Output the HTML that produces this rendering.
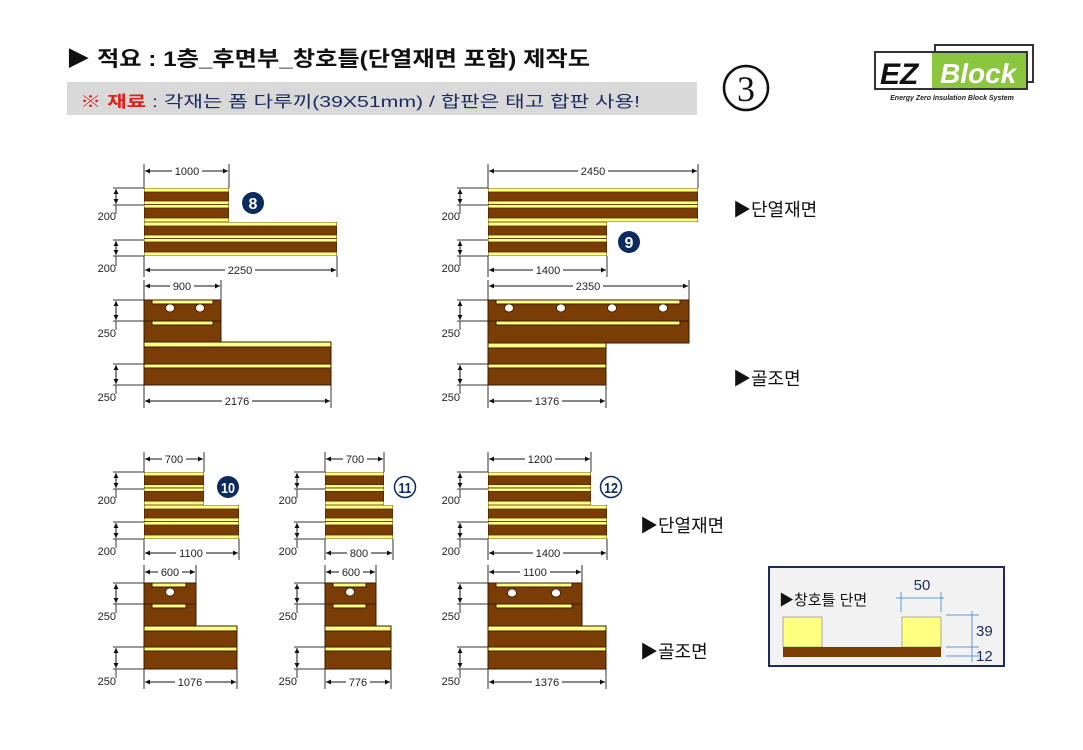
<!DOCTYPE html>
<html><head><meta charset="utf-8"><style>
html,body{margin:0;padding:0;background:#fff;}
svg{display:block;}
.d{font-family:"Liberation Sans",sans-serif;font-size:11px;fill:#222;}
.k{font-family:"Liberation Sans","Noto Sans CJK KR",sans-serif;}
</style></head><body>
<svg width="1083" height="750" viewBox="0 0 1083 750" xmlns="http://www.w3.org/2000/svg">
<defs>
<marker id="a" viewBox="0 0 10 10" refX="10" refY="5" markerWidth="7" markerHeight="5" orient="auto-start-reverse" markerUnits="userSpaceOnUse"><path d="M0,0L10,5L0,10z" fill="#111"/></marker>
<symbol id="ins" viewBox="0 0 100 34" preserveAspectRatio="none">
<rect x="0" y="0" width="100" height="34" fill="#7a3d05" stroke="#3a1a00" stroke-width="1" vector-effect="non-scaling-stroke"/>
<g fill="#ffff80" stroke="#4a2500" stroke-width="0.8" vector-effect="non-scaling-stroke">
<rect x="0" y="0" width="100" height="4" vector-effect="non-scaling-stroke"/>
<rect x="0" y="13" width="100" height="3.5" vector-effect="non-scaling-stroke"/>
<rect x="0" y="16.5" width="100" height="3.5" vector-effect="non-scaling-stroke"/>
<rect x="0" y="30" width="100" height="4" vector-effect="non-scaling-stroke"/>
</g>
</symbol>
</defs>

<!-- Header -->
<text x="66" y="66" class="k" font-size="21" font-weight="bold" fill="#111" textLength="524" lengthAdjust="spacingAndGlyphs">▶ 적요 : 1층_후면부_창호틀(단열재면 포함) 제작도</text>
<rect x="67" y="82" width="630" height="33" fill="#d9d9d9"/>
<text x="80" y="107" class="k" font-size="16" textLength="560" lengthAdjust="spacingAndGlyphs"><tspan fill="#e0201c" font-weight="bold">※ 재료</tspan><tspan fill="#1c2a5e"> : 각재는 폼 다루끼(39X51mm) / 합판은 태고 합판 사용!</tspan></text>
<circle cx="746" cy="88" r="22" fill="none" stroke="#111" stroke-width="2.5"/>
<text x="746" y="101" text-anchor="middle" font-family="Liberation Serif,serif" font-size="36" fill="#111">3</text>

<!-- Logo -->
<rect x="935" y="45" width="98" height="37" fill="#fff" stroke="#333" stroke-width="2"/>
<rect x="875" y="52" width="152" height="37" fill="#fff" stroke="#333" stroke-width="2"/>
<rect x="932" y="53" width="94" height="35" fill="#8cc63f"/>
<text x="880" y="84" font-family="Liberation Sans,sans-serif" font-weight="bold" font-style="italic" font-size="30" fill="#111">EZ</text>
<text x="940" y="83" font-family="Liberation Sans,sans-serif" font-weight="bold" font-style="italic" font-size="28" fill="#fff">Block</text>
<text x="952" y="100" text-anchor="middle" font-family="Liberation Sans,sans-serif" font-weight="bold" font-style="italic" font-size="7" fill="#222">Energy Zero Insulation Block System</text>

<!-- Insulation blocks -->
<use href="#ins" x="144" y="188" width="85" height="34"/>
<use href="#ins" x="144" y="222" width="193" height="34"/>
<use href="#ins" x="488" y="188" width="210" height="34"/>
<use href="#ins" x="488" y="222" width="119" height="34"/>
<use href="#ins" x="144" y="472" width="60" height="33"/>
<use href="#ins" x="144" y="505" width="95" height="34"/>
<use href="#ins" x="325" y="472" width="59" height="33"/>
<use href="#ins" x="325" y="505" width="68" height="34"/>
<use href="#ins" x="488" y="472" width="103" height="33"/>
<use href="#ins" x="488" y="505" width="119" height="34"/>

<!-- Frame blocks -->
<g stroke="#3a1a00" stroke-width="1">
<!-- 8 -->
<rect x="144" y="300" width="77" height="42" fill="#7a3d05"/>
<line x1="144" y1="321" x2="221" y2="321"/>
<rect x="152" y="300" width="61" height="4" fill="#ffff80"/>
<rect x="152" y="321" width="61" height="4" fill="#ffff80"/>
<rect x="144" y="342" width="187" height="43" fill="#7a3d05"/>
<rect x="144" y="342" width="187" height="5" fill="#ffff80"/>
<rect x="144" y="364" width="187" height="4" fill="#ffff80"/>
<!-- 9 -->
<rect x="488" y="300" width="201" height="43" fill="#7a3d05"/>
<line x1="488" y1="321" x2="689" y2="321"/>
<rect x="496" y="300" width="184" height="4" fill="#ffff80"/>
<rect x="496" y="321" width="184" height="4" fill="#ffff80"/>
<rect x="488" y="343" width="118" height="42" fill="#7a3d05"/>
<rect x="488" y="343" width="118" height="5" fill="#ffff80"/>
<rect x="488" y="364" width="118" height="4" fill="#ffff80"/>
<!-- 10 -->
<rect x="144" y="583" width="52" height="43" fill="#7a3d05"/>
<line x1="144" y1="604" x2="196" y2="604"/>
<rect x="152" y="583" width="34" height="4" fill="#ffff80"/>
<rect x="152" y="604" width="34" height="4" fill="#ffff80"/>
<rect x="144" y="626" width="93" height="43" fill="#7a3d05"/>
<rect x="144" y="626" width="93" height="5" fill="#ffff80"/>
<rect x="144" y="647" width="93" height="4" fill="#ffff80"/>
<!-- 11 -->
<rect x="325" y="583" width="51" height="43" fill="#7a3d05"/>
<line x1="325" y1="604" x2="376" y2="604"/>
<rect x="333" y="583" width="33" height="4" fill="#ffff80"/>
<rect x="333" y="604" width="33" height="4" fill="#ffff80"/>
<rect x="325" y="626" width="66" height="43" fill="#7a3d05"/>
<rect x="325" y="626" width="66" height="5" fill="#ffff80"/>
<rect x="325" y="647" width="66" height="4" fill="#ffff80"/>
<!-- 12 -->
<rect x="488" y="583" width="94" height="43" fill="#7a3d05"/>
<line x1="488" y1="604" x2="582" y2="604"/>
<rect x="496" y="583" width="76" height="4" fill="#ffff80"/>
<rect x="496" y="604" width="76" height="4" fill="#ffff80"/>
<rect x="488" y="626" width="118" height="43" fill="#7a3d05"/>
<rect x="488" y="626" width="118" height="5" fill="#ffff80"/>
<rect x="488" y="647" width="118" height="4" fill="#ffff80"/>
</g>
<g fill="#fff" stroke="#3a1a00" stroke-width="0.8">
<ellipse cx="170" cy="308" rx="4.5" ry="4"/><ellipse cx="200" cy="308" rx="4.5" ry="4"/>
<ellipse cx="509" cy="308" rx="4.5" ry="4"/><ellipse cx="561" cy="308" rx="4.5" ry="4"/><ellipse cx="612" cy="308" rx="4.5" ry="4"/><ellipse cx="663" cy="308" rx="4.5" ry="4"/>
<ellipse cx="170" cy="592" rx="4.5" ry="4"/>
<ellipse cx="350" cy="592" rx="4.5" ry="4"/>
<ellipse cx="512" cy="593" rx="4.5" ry="4"/><ellipse cx="556" cy="593" rx="4.5" ry="4"/>
</g>

<!-- Number badges -->
<circle cx="253" cy="203" r="11" fill="#0b2a5e"/><text x="253" y="209" text-anchor="middle" font-family="Liberation Sans,sans-serif" font-weight="bold" font-size="16" fill="#fff">8</text>
<circle cx="629" cy="242" r="11" fill="#0b2a5e"/><text x="629" y="248" text-anchor="middle" font-family="Liberation Sans,sans-serif" font-weight="bold" font-size="16" fill="#fff">9</text>
<circle cx="228" cy="487" r="11" fill="#0b2a5e"/><text x="228" y="493" text-anchor="middle" font-family="Liberation Sans,sans-serif" font-weight="bold" font-size="15" fill="#fff" textLength="14" lengthAdjust="spacingAndGlyphs">10</text>
<circle cx="405" cy="487" r="10.5" fill="#fff" stroke="#0b2a5e" stroke-width="1.5"/><text x="405" y="493" text-anchor="middle" font-family="Liberation Sans,sans-serif" font-weight="bold" font-size="15" fill="#0b2a5e" textLength="13" lengthAdjust="spacingAndGlyphs">11</text>
<circle cx="611" cy="487" r="10.5" fill="#fff" stroke="#0b2a5e" stroke-width="1.5"/><text x="611" y="493" text-anchor="middle" font-family="Liberation Sans,sans-serif" font-weight="bold" font-size="15" fill="#0b2a5e" textLength="14" lengthAdjust="spacingAndGlyphs">12</text>

<!-- Dimension lines -->
<g stroke="#333" stroke-width="1" fill="none">
<!-- horizontal dims: ext lines -->
<path d="M144,164V188M229,164V188 M144,256V277M337,256V277 M144,280V300M221,280V300 M144,385V408M331,385V408
M488,164V188M698,164V188 M488,256V277M607,256V277 M488,280V300M689,280V300 M488,385V408M606,385V408
M144,452V472M204,452V472 M144,539V560M239,539V560 M144,565V583M196,565V583 M144,669V689M237,669V689
M325,452V472M384,452V472 M325,539V560M393,539V560 M325,565V583M376,565V583 M325,669V689M391,669V689
M488,452V472M591,452V472 M488,539V560M607,539V560 M488,565V583M582,565V583 M488,669V689M606,669V689"/>
<!-- vertical dims: ext lines -->
<path d="M113,188H144M113,205H144M113,240H144M113,256H144 M113,300H144M113,321H144M113,364H144M113,385H144
M457,188H488M457,205H488M457,240H488M457,256H488 M457,300H488M457,321H488M457,364H488M457,385H488
M113,472H144M113,489H144M113,522H144M113,539H144 M113,583H144M113,604H144M113,647H144M113,669H144
M294,472H325M294,489H325M294,522H325M294,539H325 M294,583H325M294,604H325M294,647H325M294,669H325
M457,472H488M457,489H488M457,522H488M457,539H488 M457,583H488M457,604H488M457,647H488M457,669H488"/>
</g>
<g stroke="#111" stroke-width="1" marker-start="url(#a)" marker-end="url(#a)">
<line x1="145" y1="171" x2="228" y2="171"/><line x1="145" y1="270" x2="336" y2="270"/>
<line x1="145" y1="286" x2="220" y2="286"/><line x1="145" y1="401" x2="330" y2="401"/>
<line x1="489" y1="171" x2="697" y2="171"/><line x1="489" y1="270" x2="606" y2="270"/>
<line x1="489" y1="286" x2="688" y2="286"/><line x1="489" y1="401" x2="605" y2="401"/>
<line x1="145" y1="459" x2="203" y2="459"/><line x1="145" y1="553" x2="238" y2="553"/>
<line x1="145" y1="572" x2="195" y2="572"/><line x1="145" y1="682" x2="236" y2="682"/>
<line x1="326" y1="459" x2="383" y2="459"/><line x1="326" y1="553" x2="392" y2="553"/>
<line x1="326" y1="572" x2="375" y2="572"/><line x1="326" y1="682" x2="390" y2="682"/>
<line x1="489" y1="459" x2="590" y2="459"/><line x1="489" y1="553" x2="606" y2="553"/>
<line x1="489" y1="572" x2="581" y2="572"/><line x1="489" y1="682" x2="605" y2="682"/>
<!-- vertical -->
<line x1="116" y1="189" x2="116" y2="204"/><line x1="116" y1="241" x2="116" y2="255"/>
<line x1="116" y1="301" x2="116" y2="320"/><line x1="116" y1="365" x2="116" y2="384"/>
<line x1="460" y1="189" x2="460" y2="204"/><line x1="460" y1="241" x2="460" y2="255"/>
<line x1="460" y1="301" x2="460" y2="320"/><line x1="460" y1="365" x2="460" y2="384"/>
<line x1="116" y1="473" x2="116" y2="488"/><line x1="116" y1="523" x2="116" y2="538"/>
<line x1="116" y1="584" x2="116" y2="603"/><line x1="116" y1="648" x2="116" y2="668"/>
<line x1="297" y1="473" x2="297" y2="488"/><line x1="297" y1="523" x2="297" y2="538"/>
<line x1="297" y1="584" x2="297" y2="603"/><line x1="297" y1="648" x2="297" y2="668"/>
<line x1="460" y1="473" x2="460" y2="488"/><line x1="460" y1="523" x2="460" y2="538"/>
<line x1="460" y1="584" x2="460" y2="603"/><line x1="460" y1="648" x2="460" y2="668"/>
</g>
<g stroke="#333" stroke-width="1">
<path d="M116,205V214M116,256V266M116,321V330M116,385V394 M460,205V214M460,256V266M460,321V330M460,385V394
M116,489V498M116,539V548M116,604V613M116,669V678 M297,489V498M297,539V548M297,604V613M297,669V678
M460,489V498M460,539V548M460,604V613M460,669V678"/>
</g>
<!-- dim label backgrounds -->
<g fill="#fff">
<rect x="172" y="164" width="30" height="13"/><rect x="225" y="263" width="30" height="13"/>
<rect x="170" y="279" width="24" height="13"/><rect x="222" y="394" width="30" height="13"/>
<rect x="578" y="164" width="30" height="13"/><rect x="533" y="263" width="30" height="13"/>
<rect x="573" y="279" width="30" height="13"/><rect x="532" y="394" width="30" height="13"/>
<rect x="162" y="452" width="24" height="13"/><rect x="176" y="546" width="30" height="13"/>
<rect x="158" y="565" width="24" height="13"/><rect x="175" y="675" width="30" height="13"/>
<rect x="343" y="452" width="24" height="13"/><rect x="347" y="546" width="24" height="13"/>
<rect x="339" y="565" width="24" height="13"/><rect x="346" y="675" width="24" height="13"/>
<rect x="525" y="452" width="30" height="13"/><rect x="533" y="546" width="30" height="13"/>
<rect x="520" y="565" width="30" height="13"/><rect x="532" y="675" width="30" height="13"/>
</g>
<g class="d" text-anchor="middle">
<text x="187" y="175">1000</text><text x="240" y="274">2250</text>
<text x="182" y="290">900</text><text x="237" y="405">2176</text>
<text x="593" y="175">2450</text><text x="548" y="274">1400</text>
<text x="588" y="290">2350</text><text x="547" y="405">1376</text>
<text x="174" y="463">700</text><text x="191" y="557">1100</text>
<text x="170" y="576">600</text><text x="190" y="686">1076</text>
<text x="355" y="463">700</text><text x="359" y="557">800</text>
<text x="351" y="576">600</text><text x="358" y="686">776</text>
<text x="540" y="463">1200</text><text x="548" y="557">1400</text>
<text x="535" y="576">1100</text><text x="547" y="686">1376</text>
</g>
<g class="d" text-anchor="end">
<text x="116" y="220">200</text><text x="116" y="272">200</text><text x="116" y="337">250</text><text x="116" y="401">250</text>
<text x="460" y="220">200</text><text x="460" y="272">200</text><text x="460" y="337">250</text><text x="460" y="401">250</text>
<text x="116" y="504">200</text><text x="116" y="555">200</text><text x="116" y="620">250</text><text x="116" y="685">250</text>
<text x="297" y="504">200</text><text x="297" y="555">200</text><text x="297" y="620">250</text><text x="297" y="685">250</text>
<text x="460" y="504">200</text><text x="460" y="555">200</text><text x="460" y="620">250</text><text x="460" y="685">250</text>
</g>

<!-- Side labels -->
<g class="k" font-size="18" fill="#111">
<text x="733" y="216">▶단열재면</text>
<text x="733" y="385">▶골조면</text>
<text x="640" y="532">▶단열재면</text>
<text x="640" y="658">▶골조면</text>
</g>

<!-- Section box -->
<rect x="769" y="567" width="235" height="99" fill="#f2f2f2" stroke="#1c2a5e" stroke-width="2"/>
<text x="779" y="605" class="k" font-size="15" fill="#111">▶창호틀 단면</text>
<text x="922" y="590" text-anchor="middle" font-family="Liberation Sans,sans-serif" font-size="15" fill="#1c2a5e">50</text>
<g stroke="#5b9bd5" stroke-width="1" fill="none">
<path d="M896,598H944M901,592V612M941,592V612"/>
<path d="M946,615H979M946,647H979M946,656H979M972,611V662"/>
</g>
<rect x="783" y="617" width="39" height="30" fill="#ffff80" stroke="#999" stroke-width="0.8"/>
<rect x="902" y="617" width="39" height="30" fill="#ffff80" stroke="#999" stroke-width="0.8"/>
<rect x="783" y="647" width="158" height="10" fill="#7a3d05"/>
<text x="976" y="636" font-family="Liberation Sans,sans-serif" font-size="15" fill="#1c2a5e">39</text>
<text x="976" y="661" font-family="Liberation Sans,sans-serif" font-size="15" fill="#1c2a5e">12</text>
</svg>
</body></html>
